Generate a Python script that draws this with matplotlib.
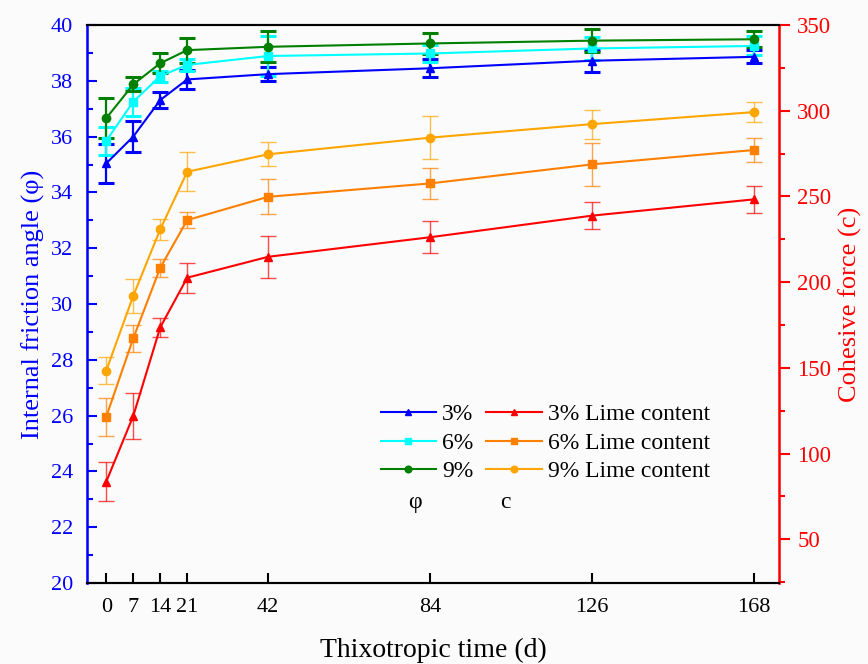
import matplotlib
matplotlib.use("Agg")
import matplotlib.pyplot as plt
from matplotlib.ticker import MultipleLocator

plt.rcParams['font.family'] = ['Liberation Serif', 'DejaVu Serif']

days = [0, 7, 14, 21, 42, 84, 126, 168]

# internal friction angle (phi)
phi_3 = [35.04, 36.00, 37.31, 38.05, 38.24, 38.45, 38.72, 38.86]
phi_3_err = [0.70, 0.55, 0.29, 0.34, 0.25, 0.32, 0.40, 0.23]
phi_6 = [35.85, 37.25, 38.17, 38.57, 38.89, 38.98, 39.16, 39.25]
phi_6_err = [0.50, 0.50, 0.20, 0.20, 0.70, 0.30, 0.42, 0.34]
phi_9 = [36.66, 37.87, 38.63, 39.10, 39.22, 39.34, 39.44, 39.49]
phi_9_err = [0.72, 0.25, 0.36, 0.45, 0.56, 0.38, 0.42, 0.29]

# cohesive force (c)
c_3 = [83.6, 121.9, 173.6, 202.6, 214.8, 226.2, 238.8, 248.3]
c_3_err = [11.2, 13.3, 5.4, 8.7, 12.2, 9.4, 7.8, 8.0]
c_6 = [121.5, 167.2, 208.4, 236.2, 249.8, 257.6, 268.7, 277.1]
c_6_err = [11.0, 7.8, 5.2, 4.8, 10.2, 9.0, 12.6, 7.2]
c_9 = [148.4, 192.0, 230.8, 264.4, 274.6, 284.3, 292.2, 299.2]
c_9_err = [8.0, 10.0, 6.0, 11.4, 7.0, 12.6, 8.4, 5.8]

fig = plt.figure(figsize=(8.68, 6.64), dpi=100, facecolor='#fbfbfb')
ax = fig.add_axes([0.1002, 0.122, 0.7973, 0.8403])
ax.set_facecolor('#fbfbfb')
ax2 = ax.twinx()

handles = []
for ys, es, col, mk, lab in [(phi_3, phi_3_err, '#0000ff', '^', '3%'),
                             (phi_6, phi_6_err, '#00ffff', 's', '6%'),
                             (phi_9, phi_9_err, '#007f00', 'o', '9%')]:
    cont = ax.errorbar(days, ys, yerr=es, color=col, marker=mk, markersize=6,
                       lw=1.5, elinewidth=1.6, capsize=5.5, capthick=2.2)
    cont.lines[0].set_label(lab)
    handles.append(cont.lines[0])

for ys, es, col, mk, lab in [(c_3, c_3_err, '#ff0000', '^', '3% Lime content'),
                             (c_6, c_6_err, '#ff7f00', 's', '6% Lime content'),
                             (c_9, c_9_err, '#ffa500', 'o', '9% Lime content')]:
    cont = ax2.errorbar(days, ys, yerr=es, color=col, marker=mk, markersize=6,
                        lw=1.5, elinewidth=1.0, capsize=5.5, capthick=1.0)
    for b in cont.lines[1]:
        b.set_alpha(0.7)
    for b in cont.lines[2]:
        b.set_alpha(0.7)
    cont.lines[0].set_label(lab)
    handles.append(cont.lines[0])

ax.set_xlim(-5, 174.5)
ax.set_ylim(20, 40)
ax2.set_ylim(24.5, 350)
ax.set_xticks(days)
ax.set_xticklabels([str(d) for d in days])

ax.yaxis.set_major_locator(MultipleLocator(2))
ax.yaxis.set_minor_locator(MultipleLocator(1))
ax2.set_yticks([50, 100, 150, 200, 250, 300, 350])
ax2.yaxis.set_minor_locator(MultipleLocator(25))

ax.tick_params(axis='x', direction='in', length=7, width=1.5, labelsize=16, pad=11)
ax.tick_params(axis='y', which='major', direction='in', length=7, width=1.5,
               colors='#0000ff', labelsize=16, pad=10)
ax.tick_params(axis='y', which='minor', direction='in', length=4, width=1.5,
               colors='#0000ff')
ax2.tick_params(axis='y', which='major', direction='out', length=8, width=1.5,
                colors='#ff0000', labelsize=16.5, pad=5)
ax2.tick_params(axis='y', which='minor', direction='out', length=4.5, width=1.5,
                colors='#ff0000')

for a in (ax, ax2):
    a.spines['top'].set_color('black')
    a.spines['bottom'].set_color('black')
    a.spines['top'].set_linewidth(1.5)
    a.spines['bottom'].set_linewidth(1.5)
ax2.spines['left'].set_color('#0000ff')
ax2.spines['left'].set_linewidth(1.8)
ax2.spines['right'].set_color('#ff0000')
ax2.spines['right'].set_linewidth(1.8)

ax.set_xlabel('Thixotropic time (d)', fontsize=20, labelpad=15)
ax.set_ylabel('Internal friction angle (φ)', fontsize=19, color='#0000ff', labelpad=4)
ax2.set_ylabel('Cohesive force (c)', fontsize=19, color='#ff0000', labelpad=5)

fig.legend(handles=handles, ncol=2, loc='upper left', bbox_to_anchor=(0.414, 0.424),
           frameon=False, fontsize=17, handlelength=2.35, handletextpad=0.25,
           columnspacing=0.55, labelspacing=0.3, markerscale=0.8)
fig.text(0.478, 0.2425, 'φ', fontsize=17, ha='center', va='center')
fig.text(0.582, 0.2425, 'c', fontsize=17, ha='center', va='center')

fig.savefig('out.png', dpi=100, facecolor=fig.get_facecolor())
